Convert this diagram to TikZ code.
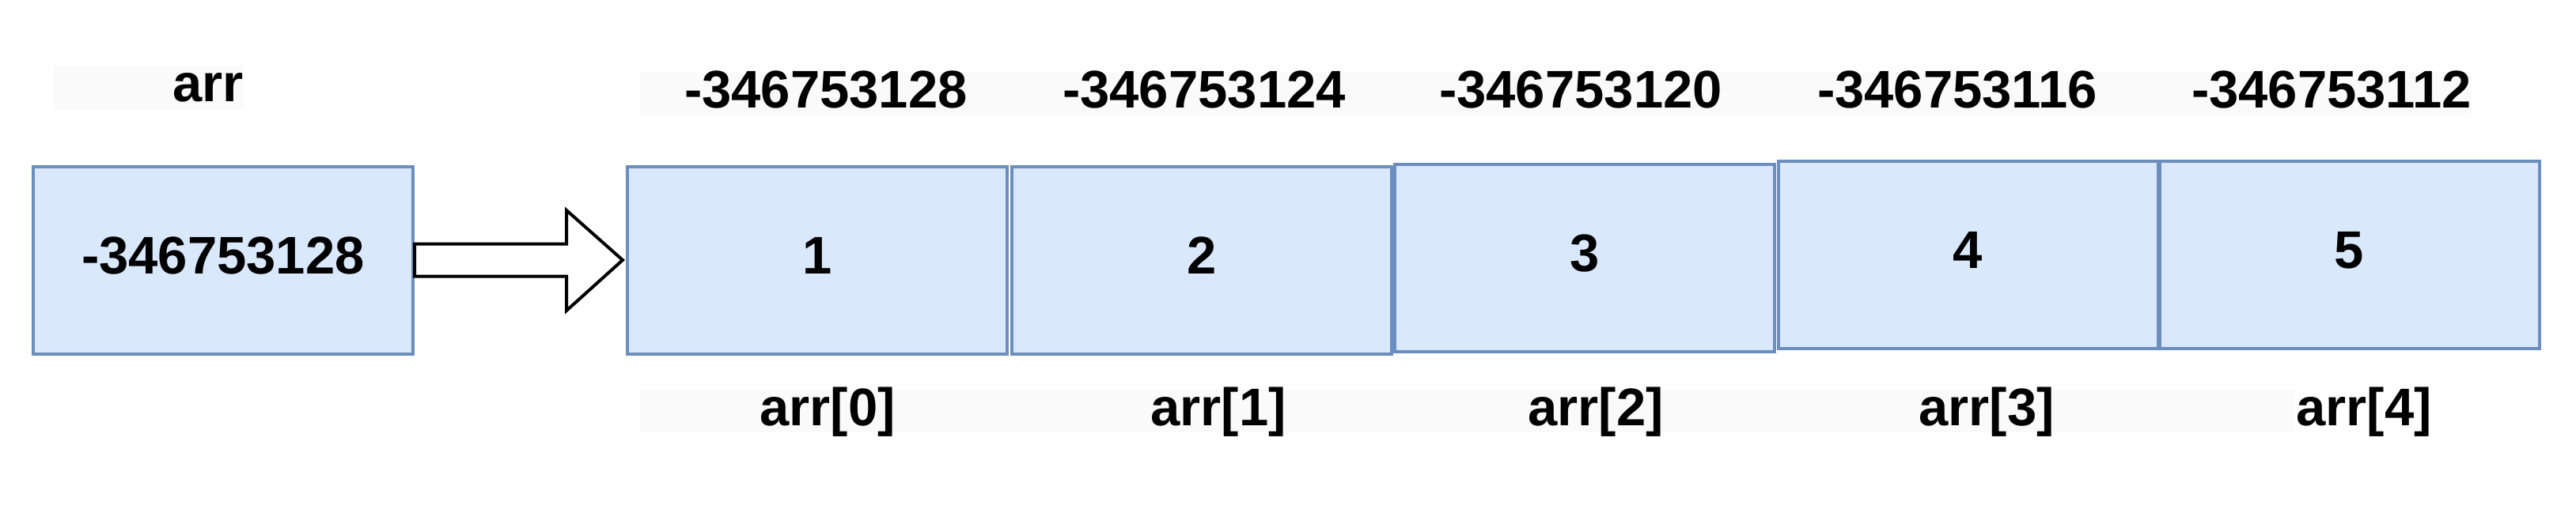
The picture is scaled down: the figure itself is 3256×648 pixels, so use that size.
\documentclass[tikz,border=0pt]{standalone}
\usepackage{fontspec}
\setmainfont{Liberation Sans}
\usetikzlibrary{calc}
\definecolor{cellfill}{HTML}{DAE8FC}
\definecolor{celldraw}{HTML}{6C8EBF}
\definecolor{labelbg}{HTML}{FAFAFA}
\newcommand\bigfont{\fontsize{67}{80}\selectfont\bfseries}
\begin{document}
\begin{tikzpicture}[x=1pt,y=-1pt,
  cell/.style={draw=celldraw, fill=cellfill, line width=4pt, minimum width=480pt, minimum height=237pt, inner sep=0pt, font=\bigfont, text depth=12pt},
  lbl/.style={font=\bigfont, inner sep=0pt, anchor=base},
  bgstrip/.style={fill=labelbg},
  blockarrow/.style={draw=black, fill=white, line width=4pt, line join=miter}
]
\useasboundingbox[fill=white] (0,0) rectangle (3256,648);
% label backgrounds
\fill[bgstrip] (68,83) rectangle (309,139);
\fill[bgstrip] (809,92) rectangle (3123,147);
\fill[bgstrip] (809,493) rectangle (2900,547);
% cells
\node[cell] (L) at (282,329) {-346753128};
\node[cell] (B1) at (1033,329) {1};
\node[cell] (B2) at (1519,329) {2};
\node[cell] (B3) at (2003,326) {3};
\node[cell] (B4) at (2487.5,322) {4};
\node[cell] (B5) at (2969.5,322) {5};
% pointer arrow
\coordinate (tip) at ($(B1.west)+(-4,0)$);
\draw[blockarrow] ($(L.east)+(0,-20.5)$) -- ($(L.east)+(192,-20.5)$) -- ($(L.east)+(192,-63)$) -- (tip) -- ($(L.east)+(192,64)$) -- ($(L.east)+(192,20.5)$) -- ($(L.east)+(0,20.5)$) -- cycle;
% labels
\node[lbl] (arr) at (263,128) {arr};
\node[lbl] (a0) at (1044,136) {-346753128};
\node[lbl] (a1) at (1522,136) {-346753124};
\node[lbl] (a2) at (1998,136) {-346753120};
\node[lbl] (a3) at (2474,136) {-346753116};
\node[lbl] (a4) at (2947,136) {-346753112};
\node[lbl] (i0) at (1046,538) {arr[0]};
\node[lbl] (i1) at (1540,538) {arr[1]};
\node[lbl] (i2) at (2017,538) {arr[2]};
\node[lbl] (i3) at (2511,538) {arr[3]};
\node[lbl] (i4) at (2988,538) {arr[4]};
\end{tikzpicture}
\end{document}
